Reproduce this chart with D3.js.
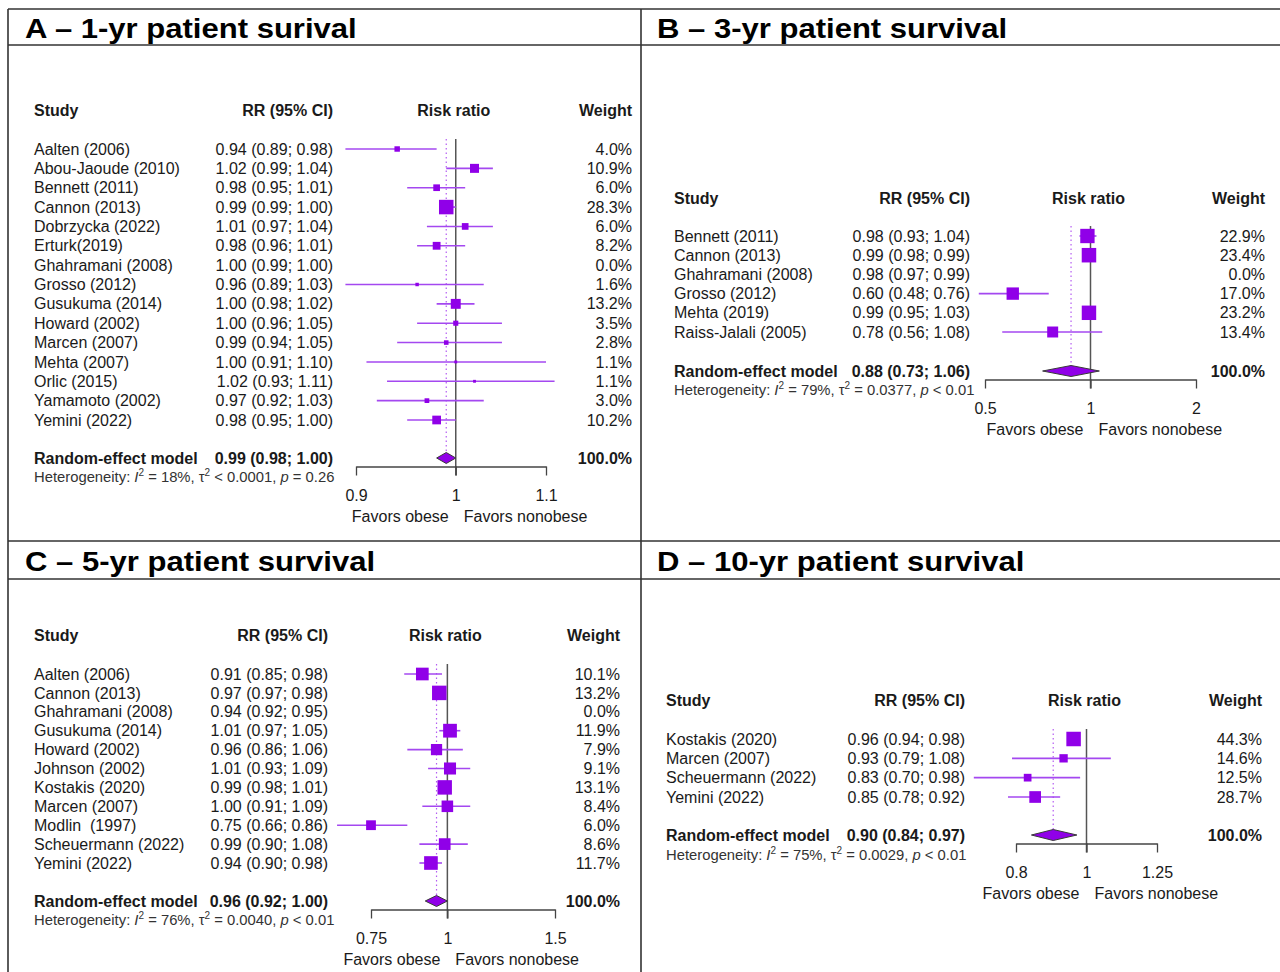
<!DOCTYPE html>
<html lang="en">
<head>
<meta charset="utf-8">
<title>Patient survival, obese vs nonobese</title>
<script src="https://cdn.jsdelivr.net/npm/d3@7"></script>
<style>
  body { margin: 0; background: #fff; }
  svg text { font-family: "Liberation Sans", Arial, Helvetica, sans-serif; fill: #1a1a1a; white-space: pre; }
  .hdr { font-weight: bold; font-size: 16px; }
  .lbl { font-size: 16px; }
  .bold { font-weight: bold; }
  .het { font-size: 14.8px; fill: #333; }
  .title { font-weight: bold; font-size: 27px; fill: #000; }
</style>
</head>
<body>
<svg id="chart" width="1280" height="972"></svg>
<script>
// ---- A: 1-yr ----
var studiesA = ["Aalten (2006)", "Abou-Jaoude (2010)", "Bennett (2011)", "Cannon (2013)", "Dobrzycka (2022)",
  "Erturk(2019)", "Ghahramani (2008)", "Grosso (2012)", "Gusukuma (2014)", "Howard (2002)", "Marcen (2007)",
  "Mehta (2007)", "Orlic (2015)", "Yamamoto (2002)", "Yemini (2022)"];
var rrA     = [0.94, 1.02, 0.98, 0.99, 1.01, 0.98, 1.00, 0.96, 1.00, 1.00, 0.99, 1.00, 1.02, 0.97, 0.98];
var loA     = [0.89, 0.99, 0.95, 0.99, 0.97, 0.96, 0.99, 0.89, 0.98, 0.96, 0.94, 0.91, 0.93, 0.92, 0.95];
var hiA     = [0.98, 1.04, 1.01, 1.00, 1.04, 1.01, 1.00, 1.03, 1.02, 1.05, 1.05, 1.10, 1.11, 1.03, 1.00];
var weightA = [4.0, 10.9, 6.0, 28.3, 6.0, 8.2, 0.0, 1.6, 13.2, 3.5, 2.8, 1.1, 1.1, 3.0, 10.2];
var summaryA = [0.99, 0.98, 1.00];
var hetA = ["18%", "< 0.0001", "= 0.26"];
var ticksA = [0.9, 1, 1.1];

// ---- B: 3-yr ----
var studiesB = ["Bennett (2011)", "Cannon (2013)", "Ghahramani (2008)", "Grosso (2012)", "Mehta (2019)", "Raiss-Jalali (2005)"];
var rrB     = [0.98, 0.99, 0.98, 0.60, 0.99, 0.78];
var loB     = [0.93, 0.98, 0.97, 0.48, 0.95, 0.56];
var hiB     = [1.04, 0.99, 0.99, 0.76, 1.03, 1.08];
var weightB = [22.9, 23.4, 0.0, 17.0, 23.2, 13.4];
var summaryB = [0.88, 0.73, 1.06];
var hetB = ["79%", "= 0.0377", "< 0.01"];
var ticksB = [0.5, 1, 2];

// ---- C: 5-yr ----
var studiesC = ["Aalten (2006)", "Cannon (2013)", "Ghahramani (2008)", "Gusukuma (2014)", "Howard (2002)",
  "Johnson (2002)", "Kostakis (2020)", "Marcen (2007)", "Modlin  (1997)", "Scheuermann (2022)", "Yemini (2022)"];
var rrC     = [0.91, 0.97, 0.94, 1.01, 0.96, 1.01, 0.99, 1.00, 0.75, 0.99, 0.94];
var loC     = [0.85, 0.97, 0.92, 0.97, 0.86, 0.93, 0.98, 0.91, 0.66, 0.90, 0.90];
var hiC     = [0.98, 0.98, 0.95, 1.05, 1.06, 1.09, 1.01, 1.09, 0.86, 1.08, 0.98];
var weightC = [10.1, 13.2, 0.0, 11.9, 7.9, 9.1, 13.1, 8.4, 6.0, 8.6, 11.7];
var summaryC = [0.96, 0.92, 1.00];
var hetC = ["76%", "= 0.0040", "< 0.01"];
var ticksC = [0.75, 1, 1.5];

// ---- D: 10-yr ----
var studiesD = ["Kostakis (2020)", "Marcen (2007)", "Scheuermann (2022)", "Yemini (2022)"];
var rrD     = [0.96, 0.93, 0.83, 0.85];
var loD     = [0.94, 0.79, 0.70, 0.78];
var hiD     = [0.98, 1.08, 0.98, 0.92];
var weightD = [44.3, 14.6, 12.5, 28.7];
var summaryD = [0.90, 0.84, 0.97];
var hetD = ["75%", "= 0.0029", "< 0.01"];
var ticksD = [0.8, 1, 1.25];

var svg = d3.select("#chart");
svg.append("rect").attr("width", 1280).attr("height", 972).attr("fill", "#fff");

// frame: title bands and dividers
var frame = svg.append("g").attr("stroke", "#333").attr("stroke-width", 1.6);
[9, 45, 541, 579].forEach(function(y) {
  frame.append("line").attr("x1", 8).attr("x2", 1280).attr("y1", y).attr("y2", y);
});
[8, 641].forEach(function(x) {
  frame.append("line").attr("x1", x).attr("x2", x).attr("y1", 9).attr("y2", 972);
});

var panels = [
  { title: "A \u2013 1-yr patient surival", studies: studiesA, rr: rrA, lo: loA, hi: hiA, w: weightA,
    summary: summaryA, het: hetA, ticks: ticksA,
    tx: 25, ty: 38, hdr: 110, rowTop: 149, rowBottom: 420, rand: 458, hetY: 477,
    studyX: 34, ciR: 333, wR: 632, axL: 356, axR: 546 },
  { title: "B \u2013 3-yr patient survival", studies: studiesB, rr: rrB, lo: loB, hi: hiB, w: weightB,
    summary: summaryB, het: hetB, ticks: ticksB,
    tx: 657, ty: 38, hdr: 198, rowTop: 236, rowBottom: 332, rand: 371, hetY: 390,
    studyX: 674, ciR: 970, wR: 1265, axL: 985, axR: 1196 },
  { title: "C \u2013 5-yr patient survival", studies: studiesC, rr: rrC, lo: loC, hi: hiC, w: weightC,
    summary: summaryC, het: hetC, ticks: ticksC,
    tx: 25, ty: 571, hdr: 635, rowTop: 674, rowBottom: 863, rand: 901, hetY: 920,
    studyX: 34, ciR: 328, wR: 620, axL: 371, axR: 555 },
  { title: "D \u2013 10-yr patient survival", studies: studiesD, rr: rrD, lo: loD, hi: hiD, w: weightD,
    summary: summaryD, het: hetD, ticks: ticksD,
    tx: 657, ty: 571, hdr: 700, rowTop: 739, rowBottom: 797, rand: 835, hetY: 855,
    studyX: 666, ciR: 965, wR: 1262, axL: 1016, axR: 1157 }
];

function fmtCI(r, l, h) {
  return r.toFixed(2) + " (" + l.toFixed(2) + "; " + h.toFixed(2) + ")";
}

function drawPanel(p) {
  var g = svg.append("g");
  var rows = p.studies.map(function(s, i) {
    return { study: s, rr: p.rr[i], lo: p.lo[i], hi: p.hi[i], w: p.w[i] };
  });

  var x = d3.scaleLog()
    .domain([p.ticks[0], p.ticks[p.ticks.length - 1]])
    .range([p.axL, p.axR]);
  var y = d3.scalePoint().domain(p.studies).range([p.rowTop, p.rowBottom]);
  var box = d3.scaleSqrt().domain([0, d3.max(p.w)]).range([0, 14.5]);
  var axisY = p.rand + 8.5;

  // title (source font is a bit wider than tall)
  g.append("text").attr("class", "title")
    .attr("transform", "translate(" + p.tx + "," + p.ty + ") scale(1.15,1)")
    .text(p.title);

  // column headers
  g.append("text").attr("class", "hdr").attr("x", p.studyX).attr("y", p.hdr).attr("dy", "0.35em").text("Study");
  g.append("text").attr("class", "hdr").attr("x", p.ciR).attr("y", p.hdr).attr("dy", "0.35em")
    .attr("text-anchor", "end").text("RR (95% CI)");
  g.append("text").attr("class", "hdr").attr("x", x(1) - 2).attr("y", p.hdr).attr("dy", "0.35em")
    .attr("text-anchor", "middle").text("Risk ratio");
  g.append("text").attr("class", "hdr").attr("x", p.wR).attr("y", p.hdr).attr("dy", "0.35em")
    .attr("text-anchor", "end").text("Weight");

  // study rows text
  g.selectAll(".study").data(rows).enter().append("text")
    .attr("class", "lbl").attr("x", p.studyX).attr("y", function(d) { return y(d.study); })
    .attr("dy", "0.35em").text(function(d) { return d.study; });
  g.selectAll(".ci").data(rows).enter().append("text")
    .attr("class", "lbl").attr("x", p.ciR).attr("y", function(d) { return y(d.study); })
    .attr("dy", "0.35em").attr("text-anchor", "end")
    .text(function(d) { return fmtCI(d.rr, d.lo, d.hi); });
  g.selectAll(".wt").data(rows).enter().append("text")
    .attr("class", "lbl").attr("x", p.wR).attr("y", function(d) { return y(d.study); })
    .attr("dy", "0.35em").attr("text-anchor", "end")
    .text(function(d) { return d.w.toFixed(1) + "%"; });

  // reference line at 1
  g.append("line")
    .attr("x1", x(1)).attr("x2", x(1))
    .attr("y1", p.rowTop - 10).attr("y2", axisY + 9)
    .attr("stroke", "#555").attr("stroke-width", 1.5);

  // dotted line at pooled estimate
  g.append("line")
    .attr("x1", x(p.summary[0])).attr("x2", x(p.summary[0]))
    .attr("y1", p.rowTop - 10).attr("y2", p.rand - 5)
    .attr("stroke", "#b45cf2").attr("stroke-width", 1.2).attr("stroke-dasharray", "1.5,3");

  var shown = rows.filter(function(d) { return d.w > 0; });

  // confidence intervals
  g.selectAll(".cil").data(shown).enter().append("line")
    .attr("x1", function(d) { return x(d.lo); })
    .attr("x2", function(d) { return x(d.hi); })
    .attr("y1", function(d) { return y(d.study); })
    .attr("y2", function(d) { return y(d.study); })
    .attr("stroke", "#a448f0").attr("stroke-width", 1.6);

  // weight squares
  g.selectAll(".sq").data(shown).enter().append("rect")
    .attr("x", function(d) { return x(d.rr) - box(d.w) / 2; })
    .attr("y", function(d) { return y(d.study) - box(d.w) / 2; })
    .attr("width", function(d) { return box(d.w); })
    .attr("height", function(d) { return box(d.w); })
    .attr("fill", "#9000e8");

  // pooled diamond
  var s = p.summary;
  g.append("path")
    .attr("d", "M" + x(s[1]) + "," + p.rand +
               "L" + x(s[0]) + "," + (p.rand - 5.5) +
               "L" + x(s[2]) + "," + p.rand +
               "L" + x(s[0]) + "," + (p.rand + 5.5) + "Z")
    .attr("fill", "#9000e8").attr("stroke", "#3a3a3a").attr("stroke-width", 1);

  g.append("text").attr("class", "lbl bold").attr("x", p.studyX).attr("y", p.rand).attr("dy", "0.35em")
    .text("Random-effect model");
  g.append("text").attr("class", "lbl bold").attr("x", p.ciR).attr("y", p.rand).attr("dy", "0.35em")
    .attr("text-anchor", "end").text(fmtCI(s[0], s[1], s[2]));
  g.append("text").attr("class", "lbl bold").attr("x", p.wR).attr("y", p.rand).attr("dy", "0.35em")
    .attr("text-anchor", "end").text(d3.sum(p.w) > 0 ? "100.0%" : "");

  // heterogeneity line
  var het = g.append("text").attr("class", "het").attr("x", p.studyX).attr("y", p.hetY).attr("dy", "0.35em");
  het.append("tspan").text("Heterogeneity: ");
  het.append("tspan").attr("font-style", "italic").text("I");
  het.append("tspan").attr("font-size", "10px").attr("dy", -6).text("2");
  het.append("tspan").attr("dy", 6).text(" = " + p.het[0] + ", \u03c4");
  het.append("tspan").attr("font-size", "10px").attr("dy", -6).text("2");
  het.append("tspan").attr("dy", 6).text(" " + p.het[1] + ", ");
  het.append("tspan").attr("font-style", "italic").text("p");
  het.append("tspan").text(" " + p.het[2]);

  // x axis
  var ax = g.append("g")
    .attr("transform", "translate(0," + axisY + ")")
    .call(d3.axisBottom(x).tickValues(p.ticks).tickFormat(function(d) { return String(d); })
      .tickSize(9).tickSizeOuter(0).tickPadding(14));
  ax.attr("font-family", null).attr("font-size", null);
  ax.select(".domain").attr("stroke", "#444").attr("stroke-width", 1.3);
  ax.selectAll(".tick line").attr("stroke", "#444").attr("stroke-width", 1.3);
  ax.selectAll(".tick text").attr("class", "lbl").attr("fill", "#222");

  g.append("text").attr("class", "lbl").attr("x", x(1) - 7).attr("y", axisY + 49.5).attr("dy", "0.35em")
    .attr("text-anchor", "end").text("Favors obese");
  g.append("text").attr("class", "lbl").attr("x", x(1) + 8).attr("y", axisY + 49.5).attr("dy", "0.35em")
    .text("Favors nonobese");
}

panels.forEach(drawPanel);
</script>
</body>
</html>
